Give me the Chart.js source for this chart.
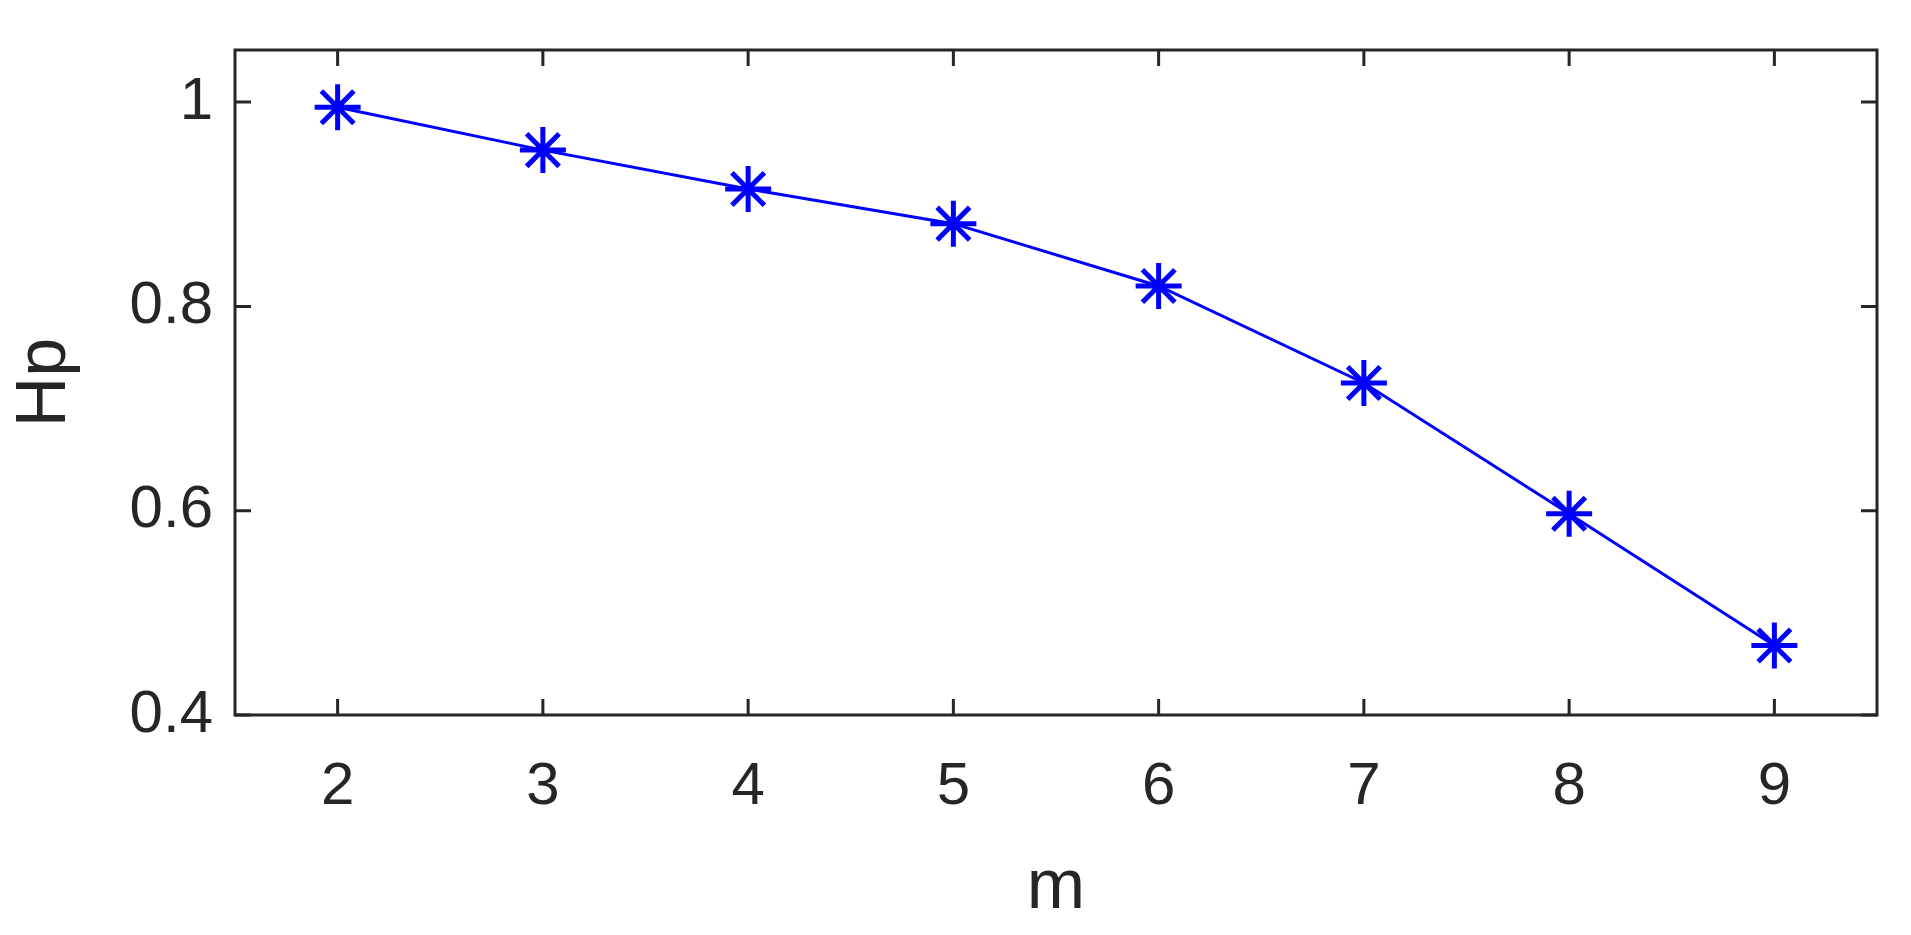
<!DOCTYPE html>
<html><head><meta charset="utf-8">
<script src="https://cdn.jsdelivr.net/npm/chart.js@4"></script>
<style>html,body{margin:0;background:#fff}#w{width:1911px;height:935px}</style>
</head><body><div id="w"><canvas id="c"></canvas></div>
<script>
const mValues=[2,3,4,5,6,7,8,9];
const hpValues=[0.995,0.953,0.915,0.881,0.820,0.725,0.597,0.468];
const xTicks=[2,3,4,5,6,7,8,9];
const yTicks=[0.4,0.6,0.8,1];
const box={id:'box',afterDatasetsDraw(ch){
 const {ctx,chartArea:a,scales:{x,y}}=ch;ctx.save();ctx.strokeStyle='#262626';ctx.lineWidth=3;
 ctx.strokeRect(a.left,a.top,a.right-a.left,a.bottom-a.top);
 const L=16;ctx.beginPath();
 xTicks.forEach(v=>{const p=x.getPixelForValue(v);ctx.moveTo(p,a.bottom);ctx.lineTo(p,a.bottom-L);ctx.moveTo(p,a.top);ctx.lineTo(p,a.top+L);});
 yTicks.forEach(v=>{const p=y.getPixelForValue(v);ctx.moveTo(a.left,p);ctx.lineTo(a.left+L,p);ctx.moveTo(a.right,p);ctx.lineTo(a.right-L,p);});
 ctx.stroke();ctx.restore();}};
new Chart(document.getElementById('c'),{type:'line',
 data:{datasets:[{data:mValues.map((m,i)=>({x:m,y:hpValues[i]})),borderColor:'#0000ff',borderWidth:3,
  pointStyle:'star',pointRadius:23,pointBorderWidth:5,pointBorderColor:'#0000ff',pointBackgroundColor:'#0000ff',tension:0}]},
 options:{responsive:true,maintainAspectRatio:false,animation:false,
  layout:{padding:{left:0,right:34,top:0,bottom:0}},
  plugins:{legend:{display:false},tooltip:{enabled:false}},
  scales:{
   x:{type:'linear',min:1.5,max:9.5,afterBuildTicks(s){s.ticks=xTicks.map(v=>({value:v}));},
    afterFit(s){s.height=220;},grid:{display:false},border:{display:false},
    ticks:{color:'#262626',padding:28,font:{family:'Liberation Sans',size:60}},
    title:{display:true,text:'m',color:'#262626',padding:{top:12},font:{family:'Liberation Sans',size:70}}},
   y:{min:0.4,max:1.051,afterBuildTicks(s){s.ticks=yTicks.map(v=>({value:v}));},
    afterFit(s){s.width=235;},grid:{display:false},border:{display:false},
    ticks:{color:'#262626',padding:14,font:{family:'Liberation Sans',size:60},callback:v=>String(v)},
    title:{display:true,text:'Hp',color:'#262626',padding:{bottom:4},font:{family:'Liberation Sans',size:70}}}}},
 plugins:[box]});
</script></body></html>
